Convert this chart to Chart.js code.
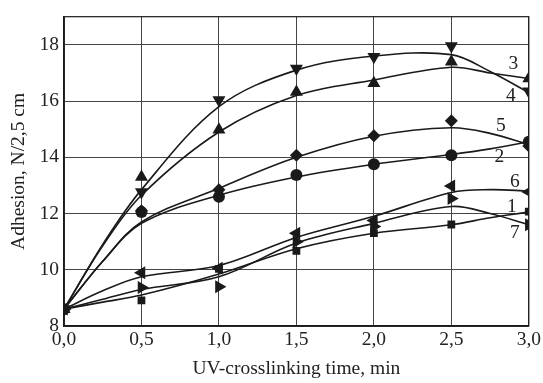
<!DOCTYPE html>
<html>
<head>
<meta charset="utf-8">
<script src="https://cdn.jsdelivr.net/npm/chart.js@4.4.1/dist/chart.umd.min.js"></script>
<style>
  html, body { margin: 0; padding: 0; background: #fff; }
  #wrap { width: 543px; height: 383px; position: relative; }
</style>
</head>
<body>
<div id="wrap"><canvas id="chart"></canvas></div>
<script>
// measured points, min
const timePoints = [0, 0.5, 1.0, 1.5, 2.0, 2.5, 3.0];
const pts1 = [8.6, 8.91, 10.03, 10.67, 11.3, 11.61, 12.07];   // squares
const pts2 = [8.6, 12.05, 12.6, 13.37, 13.75, 14.07, 14.55];  // circles
const pts3 = [8.6, 13.3, 14.98, 16.32, 16.63, 17.4, 16.8];    // up triangles
const pts4 = [8.6, 12.77, 16.04, 17.16, 17.58, 17.96, 16.35]; // down triangles
const pts5 = [8.6, 12.1, 12.85, 14.07, 14.77, 15.3, 14.4];    // diamonds
const pts6 = [8.6, 9.89, 10.05, 11.3, 11.75, 12.98, 12.77];   // left triangles
const pts7 = [8.6, 9.37, 9.4, 11.0, 11.54, 12.53, 11.6];      // right triangles

// fitted curves
const curveTimes = [0, 0.25, 0.5, 1.0, 1.5, 2.0, 2.5, 2.75, 3.0];
const fit1 = [8.6, 8.85, 9.1, 9.85, 10.75, 11.3, 11.6, 11.85, 12.05];
const fit2 = [8.6, 10.3, 11.65, 12.65, 13.3, 13.75, 14.1, 14.3, 14.55];
const fit3 = [8.6, 10.85, 12.65, 14.9, 16.2, 16.75, 17.2, 17.0, 16.8];
const fit4 = [8.6, 10.9, 12.85, 15.8, 17.1, 17.6, 17.65, 17.05, 16.3];
const fit5 = [8.6, 10.3, 11.7, 12.9, 14.0, 14.75, 15.05, 14.85, 14.45];
const fit6 = [8.6, 9.25, 9.75, 10.15, 11.15, 11.9, 12.75, 12.85, 12.8];
const fit7 = [8.6, 8.95, 9.3, 9.75, 10.95, 11.65, 12.25, 12.0, 11.6];

// curve numbers written next to the right edge
const curveNames = ['1', '2', '3', '4', '5', '6', '7'];
const nameTime = [2.89, 2.81, 2.9, 2.885, 2.82, 2.91, 2.91];
const nameValue = [12.25, 14.0, 17.33, 16.2, 15.12, 13.12, 11.3];

const ink = '#1a1a1a';
const serif = '"Liberation Serif", "Times New Roman", serif';
const textSize = 19.5;

function toXY(xs, ys) {
    return xs.map((x, i) => ({ x: x, y: ys[i] }));
}

function curve(label, ys) {
    return {
        type: 'line',
        label: label,
        data: toXY(curveTimes, ys),
        borderColor: ink,
        borderWidth: 1.6,
        pointRadius: 0,
        tension: 0.35,
        fill: false,
        clip: 0
    };
}

function markers(label, ys, style, rotation, radius) {
    return {
        type: 'scatter',
        label: label,
        data: toXY(timePoints, ys),
        pointStyle: style,
        rotation: rotation,
        pointRadius: radius,
        backgroundColor: ink,
        borderColor: ink,
        borderWidth: 0,
        showLine: false,
        clip: 0
    };
}

const extrasPlugin = {
    id: 'extras',
    afterDatasetsDraw(chart) {
        const { ctx, chartArea: a, scales } = chart;
        ctx.save();
        ctx.strokeStyle = ink;
        ctx.lineWidth = 1.2;
        ctx.strokeRect(a.left, a.top, a.right - a.left, a.bottom - a.top);
        ctx.font = textSize + 'px ' + serif;
        ctx.fillStyle = '#222';
        ctx.textAlign = 'center';
        ctx.textBaseline = 'middle';
        curveNames.forEach((t, i) => {
            ctx.fillText(t, scales.x.getPixelForValue(nameTime[i]), scales.y.getPixelForValue(nameValue[i]));
        });
        ctx.restore();
    }
};

const ctx = document.getElementById('chart').getContext('2d');
new Chart(ctx, {
    data: {
        datasets: [
            curve('1', fit1), curve('2', fit2), curve('3', fit3), curve('4', fit4),
            curve('5', fit5), curve('6', fit6), curve('7', fit7),
            markers('1 pts', pts1, 'rect', 0, 5.5),
            markers('2 pts', pts2, 'circle', 0, 6),
            markers('5 pts', pts5, 'rectRot', 0, 6.5),
            markers('3 pts', pts3, 'triangle', 0, 7.5),
            markers('4 pts', pts4, 'triangle', 180, 7.5),
            markers('6 pts', pts6, 'triangle', -90, 7.5),
            markers('7 pts', pts7, 'triangle', 90, 7.5)
        ]
    },
    options: {
        responsive: true,
        maintainAspectRatio: false,
        animation: false,
        layout: { padding: { top: 13, right: 13, left: 0, bottom: 0 } },
        plugins: {
            legend: { display: false },
            tooltip: { enabled: false }
        },
        scales: {
            x: {
                type: 'linear',
                min: 0,
                max: 3,
                ticks: {
                    stepSize: 0.5,
                    padding: 2,
                    color: '#222',
                    font: { family: serif, size: textSize },
                    callback: v => v.toFixed(1).replace('.', ',')
                },
                grid: { color: '#444', lineWidth: 1, drawTicks: false },
                border: { color: ink, width: 1.2 },
                title: {
                    display: true,
                    text: 'UV-crosslinking time, min',
                    color: '#222',
                    font: { family: serif, size: textSize },
                    padding: { top: 0, bottom: 2 }
                },
                afterFit(scale) { scale.height = 57; }
            },
            y: {
                type: 'linear',
                min: 8,
                max: 19,
                ticks: {
                    stepSize: 2,
                    includeBounds: false,
                    padding: 5,
                    color: '#222',
                    font: { family: serif, size: textSize }
                },
                grid: { color: '#444', lineWidth: 1, drawTicks: false },
                border: { color: ink, width: 1.2 },
                title: {
                    display: true,
                    text: 'Adhesion, N/2,5 cm',
                    color: '#222',
                    font: { family: serif, size: textSize },
                    padding: { top: 7, bottom: 0 }
                },
                afterFit(scale) { scale.width = 64; }
            }
        }
    },
    plugins: [extrasPlugin]
});
</script>
</body>
</html>
